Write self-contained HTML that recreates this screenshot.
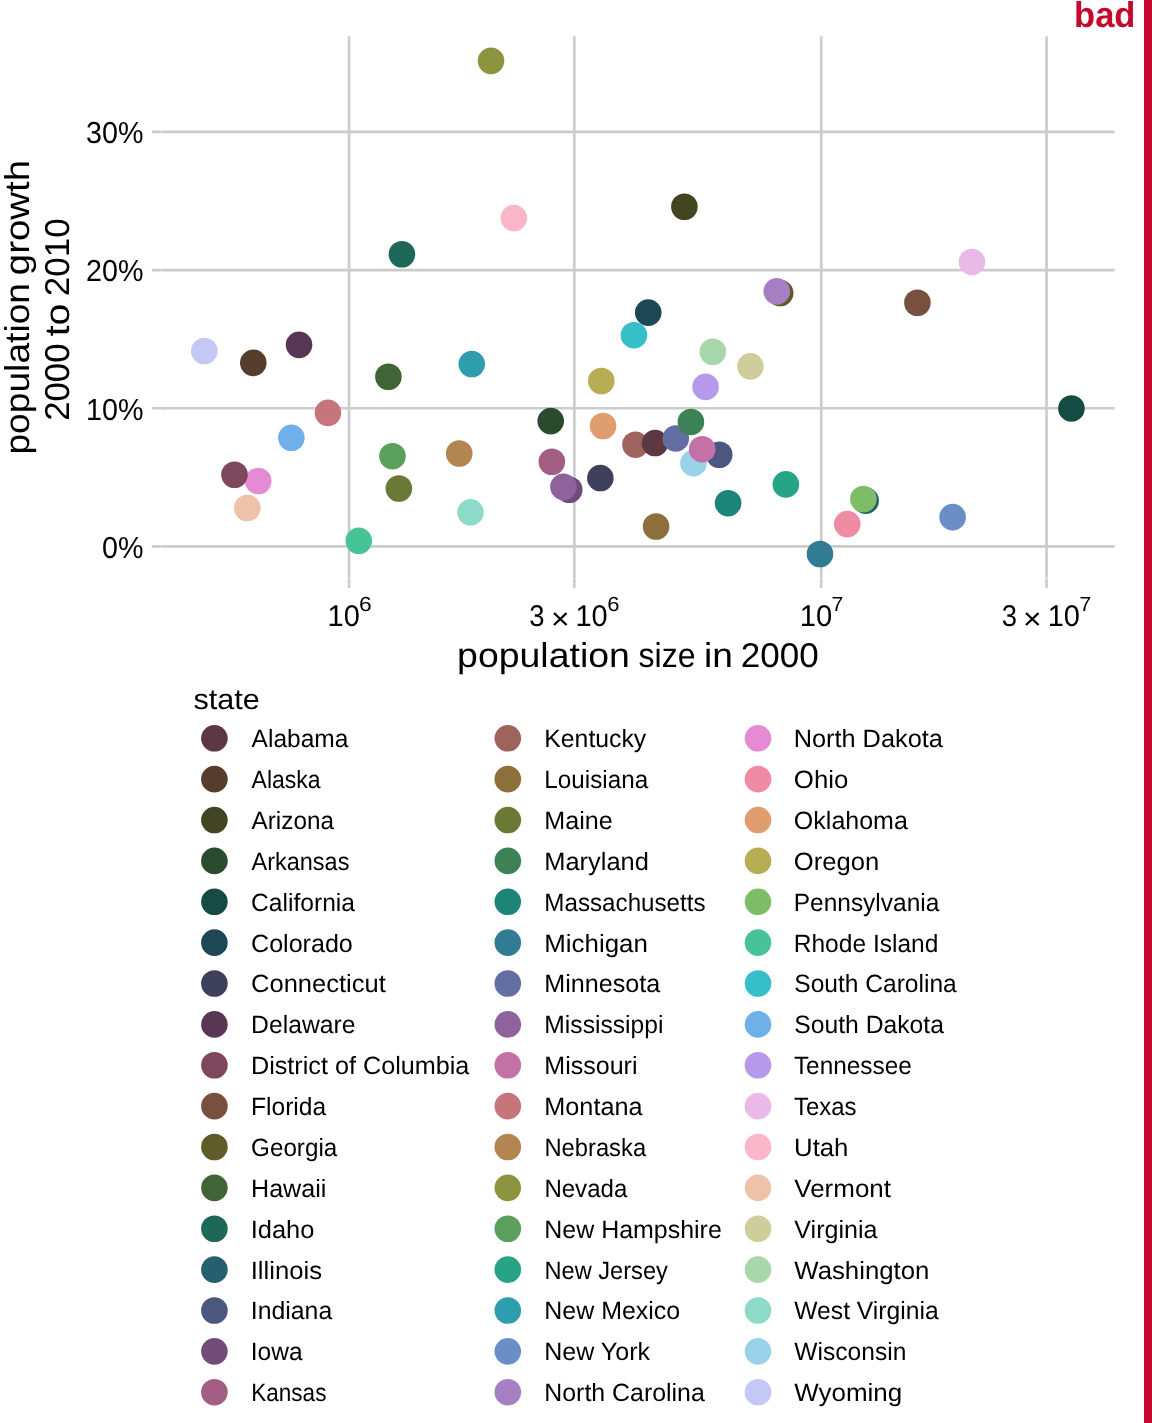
<!DOCTYPE html>
<html lang="en"><head><meta charset="utf-8"><title>population growth vs population size</title>
<style>html,body{margin:0;padding:0;background:#fff}body{width:1152px;height:1423px;overflow:hidden}svg{display:block}text{font-family:"Liberation Sans", sans-serif;text-rendering:geometricPrecision}</style></head><body>
<svg width="1152" height="1423" viewBox="0 0 1152 1423">
<rect x="0" y="0" width="1152" height="1423" fill="#fff"/>
<g stroke="#CCCCCC" stroke-width="2.67" fill="none">
<path d="M151.8 546.40H160.45M160.75 546.40H1114.7"/>
<path d="M151.8 408.25H160.45M160.75 408.25H1114.7"/>
<path d="M151.8 270.10H160.45M160.75 270.10H1114.7"/>
<path d="M151.8 131.95H160.45M160.75 131.95H1114.7"/>
<path d="M349.05 36.3V578.15M349.05 578.65V587.95"/>
<path d="M574.35 36.3V578.15M574.35 578.65V587.95"/>
<path d="M821.25 36.3V578.15M821.25 578.65V587.95"/>
<path d="M1046.55 36.3V578.15M1046.55 578.65V587.95"/>
</g>
<g>
<circle cx="819.98" cy="554.02" r="13.30" fill="#327B95"/>
<circle cx="358.73" cy="540.80" r="13.30" fill="#47C497"/>
<circle cx="656.08" cy="526.49" r="13.30" fill="#8C6F3A"/>
<circle cx="847.28" cy="524.09" r="13.30" fill="#EF8BA3"/>
<circle cx="952.62" cy="517.16" r="13.30" fill="#6A8EC6"/>
<circle cx="470.54" cy="512.29" r="13.30" fill="#8DDAC9"/>
<circle cx="247.29" cy="508.02" r="13.30" fill="#EEC2A8"/>
<circle cx="728.09" cy="503.20" r="13.30" fill="#1D8478"/>
<circle cx="865.68" cy="500.64" r="13.30" fill="#26606F"/>
<circle cx="863.39" cy="499.01" r="13.30" fill="#7FBC68"/>
<circle cx="569.25" cy="489.73" r="13.30" fill="#714C78"/>
<circle cx="398.86" cy="488.49" r="13.30" fill="#6B7937"/>
<circle cx="563.44" cy="486.84" r="13.30" fill="#8F619D"/>
<circle cx="785.84" cy="484.41" r="13.30" fill="#27A386"/>
<circle cx="258.23" cy="481.02" r="13.30" fill="#E58BD4"/>
<circle cx="600.35" cy="478.03" r="13.30" fill="#3F405C"/>
<circle cx="234.51" cy="474.76" r="13.30" fill="#7D485D"/>
<circle cx="693.50" cy="463.13" r="13.30" fill="#9AD3E9"/>
<circle cx="551.86" cy="461.77" r="13.30" fill="#A25E82"/>
<circle cx="392.47" cy="456.20" r="13.30" fill="#5A9F5D"/>
<circle cx="719.23" cy="454.77" r="13.30" fill="#4C577F"/>
<circle cx="459.22" cy="453.50" r="13.30" fill="#B38550"/>
<circle cx="702.17" cy="449.19" r="13.30" fill="#C471A8"/>
<circle cx="635.47" cy="444.68" r="13.30" fill="#9F635E"/>
<circle cx="655.07" cy="443.07" r="13.30" fill="#5D3742"/>
<circle cx="675.77" cy="438.44" r="13.30" fill="#636FA3"/>
<circle cx="291.37" cy="437.80" r="13.30" fill="#6FB0E9"/>
<circle cx="603.05" cy="426.01" r="13.30" fill="#DF9D70"/>
<circle cx="690.92" cy="421.97" r="13.30" fill="#3D8254"/>
<circle cx="550.71" cy="421.08" r="13.30" fill="#2A4B2E"/>
<circle cx="327.94" cy="412.84" r="13.30" fill="#C6767B"/>
<circle cx="1071.44" cy="408.45" r="13.30" fill="#164B43"/>
<circle cx="705.59" cy="386.91" r="13.30" fill="#B799EC"/>
<circle cx="601.30" cy="380.98" r="13.30" fill="#B7AD52"/>
<circle cx="388.40" cy="376.77" r="13.30" fill="#406435"/>
<circle cx="750.39" cy="366.36" r="13.30" fill="#CFCD99"/>
<circle cx="471.75" cy="364.03" r="13.30" fill="#2E9DAE"/>
<circle cx="253.30" cy="362.84" r="13.30" fill="#563D2B"/>
<circle cx="712.84" cy="351.76" r="13.30" fill="#A7D7AB"/>
<circle cx="204.34" cy="350.99" r="13.30" fill="#C5C7F5"/>
<circle cx="299.04" cy="344.83" r="13.30" fill="#583755"/>
<circle cx="633.96" cy="335.20" r="13.30" fill="#36BFC8"/>
<circle cx="648.23" cy="312.60" r="13.30" fill="#1E4755"/>
<circle cx="917.41" cy="302.73" r="13.30" fill="#78503E"/>
<circle cx="780.21" cy="293.07" r="13.30" fill="#615A29"/>
<circle cx="776.75" cy="291.33" r="13.30" fill="#A67EC3"/>
<circle cx="971.95" cy="261.93" r="13.30" fill="#EAB9E8"/>
<circle cx="401.90" cy="254.26" r="13.30" fill="#1E6859"/>
<circle cx="513.81" cy="218.08" r="13.30" fill="#F9B7C9"/>
<circle cx="684.39" cy="206.75" r="13.30" fill="#434421"/>
<circle cx="491.02" cy="60.87" r="13.30" fill="#8D9440"/>
</g>
<rect x="1144" y="0" width="8" height="1423" fill="#C5082E"/>
<text transform="translate(1074.06 26.90) scale(0.9645 1.0000)" font-size="35.80" font-weight="bold" fill="#C5082E">bad</text>
<text transform="translate(102.02 558.00) scale(0.9433 1.0000)" font-size="30.40">0%</text>
<text transform="translate(86.10 420.00) scale(0.9433 1.0000)" font-size="30.40">10%</text>
<text transform="translate(86.10 281.00) scale(0.9433 1.0000)" font-size="30.40">20%</text>
<text transform="translate(86.10 143.00) scale(0.9433 1.0000)" font-size="30.40">30%</text>
<g>
<text transform="translate(327.53 626.00) scale(0.9648 1.0000)" font-size="30.00">10</text>
<text transform="translate(358.96 611.00) scale(1.1135 1.0000)" font-size="20.50">6</text>
</g>
<g>
<text transform="translate(529.20 626.00) scale(0.9149 1.0000)" font-size="30.00">3</text>
<text transform="translate(550.98 628.98) scale(1.0562 1.0000)" font-size="30.00">×</text>
<text transform="translate(575.43 626.00) scale(0.9648 1.0000)" font-size="30.00">10</text>
<text transform="translate(607.20 611.00) scale(1.0710 1.0000)" font-size="20.50">6</text>
</g>
<g>
<text transform="translate(799.71 626.00) scale(0.9749 1.0000)" font-size="30.00">10</text>
<text transform="translate(831.43 611.00) scale(1.0399 1.0000)" font-size="20.50">7</text>
</g>
<g>
<text transform="translate(1001.80 626.00) scale(0.9149 1.0000)" font-size="30.00">3</text>
<text transform="translate(1023.08 628.98) scale(1.0562 1.0000)" font-size="30.00">×</text>
<text transform="translate(1047.72 626.00) scale(0.9682 1.0000)" font-size="30.00">10</text>
<text transform="translate(1079.45 611.00) scale(1.0292 1.0000)" font-size="20.50">7</text>
</g>
<g>
<text transform="translate(457.07 667.30) scale(1.0851 1.0000)" font-size="34.50">population</text>
<text transform="translate(638.54 667.30) scale(0.9275 1.0000)" font-size="34.50">size</text>
<text transform="translate(703.99 667.30) scale(1.0740 1.0000)" font-size="34.50">in</text>
<text transform="translate(740.75 667.30) scale(1.0142 1.0000)" font-size="34.50">2000</text>
</g>
<g>
<text transform="translate(29.30 454.62) rotate(-90) scale(1.0780 1.0000)" font-size="34.50">population</text>
<text transform="translate(29.30 275.13) rotate(-90) scale(1.1114 1.0000)" font-size="34.50">growth</text>
<text transform="translate(69.10 420.84) rotate(-90) scale(1.0074 1.0000)" font-size="34.50">2000</text>
<text transform="translate(69.10 336.29) rotate(-90) scale(1.1371 1.0000)" font-size="34.50">to</text>
<text transform="translate(69.10 296.15) rotate(-90) scale(1.0142 1.0000)" font-size="34.50">2010</text>
</g>
<text transform="translate(193.48 708.70) scale(1.0728 1.0000)" font-size="28.50">state</text>
<g>
<circle cx="214.40" cy="738.30" r="13.30" fill="#5D3742"/>
<text transform="translate(251.58 747.20) scale(0.9807 1.0000)" font-size="25.00">Alabama</text>
<circle cx="214.40" cy="779.17" r="13.30" fill="#563D2B"/>
<text transform="translate(251.58 788.07) scale(0.9202 1.0000)" font-size="25.00">Alaska</text>
<circle cx="214.40" cy="820.04" r="13.30" fill="#434421"/>
<text transform="translate(251.58 828.94) scale(0.9713 1.0000)" font-size="25.00">Arizona</text>
<circle cx="214.40" cy="860.91" r="13.30" fill="#2A4B2E"/>
<text transform="translate(251.58 869.81) scale(0.9385 1.0000)" font-size="25.00">Arkansas</text>
<circle cx="214.40" cy="901.78" r="13.30" fill="#164B43"/>
<text transform="translate(251.07 910.68) scale(0.9840 1.0000)" font-size="25.00">California</text>
<circle cx="214.40" cy="942.65" r="13.30" fill="#1E4755"/>
<text transform="translate(251.05 951.55) scale(1.0028 1.0000)" font-size="25.00">Colorado</text>
<circle cx="214.40" cy="983.52" r="13.30" fill="#3F405C"/>
<text transform="translate(251.02 992.42) scale(1.0205 1.0000)" font-size="25.00">Connecticut</text>
<circle cx="214.40" cy="1024.39" r="13.30" fill="#583755"/>
<text transform="translate(251.02 1033.29) scale(0.9893 1.0000)" font-size="25.00">Delaware</text>
<circle cx="214.40" cy="1065.26" r="13.30" fill="#7D485D"/>
<text transform="translate(250.98 1074.16) scale(1.0077 1.0000)" font-size="25.00">District of Columbia</text>
<circle cx="214.40" cy="1106.13" r="13.30" fill="#78503E"/>
<text transform="translate(251.03 1115.03) scale(0.9829 1.0000)" font-size="25.00">Florida</text>
<circle cx="214.40" cy="1147.00" r="13.30" fill="#615A29"/>
<text transform="translate(251.09 1155.90) scale(0.9689 1.0000)" font-size="25.00">Georgia</text>
<circle cx="214.40" cy="1187.87" r="13.30" fill="#406435"/>
<text transform="translate(250.99 1196.77) scale(1.0046 1.0000)" font-size="25.00">Hawaii</text>
<circle cx="214.40" cy="1228.74" r="13.30" fill="#1E6859"/>
<text transform="translate(250.71 1237.64) scale(1.0177 1.0000)" font-size="25.00">Idaho</text>
<circle cx="214.40" cy="1269.61" r="13.30" fill="#26606F"/>
<text transform="translate(250.69 1278.51) scale(1.0260 1.0000)" font-size="25.00">Illinois</text>
<circle cx="214.40" cy="1310.48" r="13.30" fill="#4C577F"/>
<text transform="translate(250.77 1319.38) scale(0.9931 1.0000)" font-size="25.00">Indiana</text>
<circle cx="214.40" cy="1351.35" r="13.30" fill="#714C78"/>
<text transform="translate(250.79 1360.25) scale(0.9802 1.0000)" font-size="25.00">Iowa</text>
<circle cx="214.40" cy="1392.22" r="13.30" fill="#A25E82"/>
<text transform="translate(251.20 1401.12) scale(0.9019 1.0000)" font-size="25.00">Kansas</text>
<circle cx="507.80" cy="738.30" r="13.30" fill="#9F635E"/>
<text transform="translate(544.32 747.20) scale(0.9906 1.0000)" font-size="25.00">Kentucky</text>
<circle cx="507.80" cy="779.17" r="13.30" fill="#8C6F3A"/>
<text transform="translate(544.36 788.07) scale(0.9695 1.0000)" font-size="25.00">Louisiana</text>
<circle cx="507.80" cy="820.04" r="13.30" fill="#6B7937"/>
<text transform="translate(544.29 828.94) scale(1.0062 1.0000)" font-size="25.00">Maine</text>
<circle cx="507.80" cy="860.91" r="13.30" fill="#3D8254"/>
<text transform="translate(544.26 869.81) scale(1.0179 1.0000)" font-size="25.00">Maryland</text>
<circle cx="507.80" cy="901.78" r="13.30" fill="#1D8478"/>
<text transform="translate(544.37 910.68) scale(0.9666 1.0000)" font-size="25.00">Massachusetts</text>
<circle cx="507.80" cy="942.65" r="13.30" fill="#327B95"/>
<text transform="translate(544.23 951.55) scale(1.0355 1.0000)" font-size="25.00">Michigan</text>
<circle cx="507.80" cy="983.52" r="13.30" fill="#636FA3"/>
<text transform="translate(544.29 992.42) scale(1.0055 1.0000)" font-size="25.00">Minnesota</text>
<circle cx="507.80" cy="1024.39" r="13.30" fill="#8F619D"/>
<text transform="translate(544.33 1033.29) scale(0.9853 1.0000)" font-size="25.00">Mississippi</text>
<circle cx="507.80" cy="1065.26" r="13.30" fill="#C471A8"/>
<text transform="translate(544.30 1074.16) scale(1.0014 1.0000)" font-size="25.00">Missouri</text>
<circle cx="507.80" cy="1106.13" r="13.30" fill="#C6767B"/>
<text transform="translate(544.28 1115.03) scale(1.0100 1.0000)" font-size="25.00">Montana</text>
<circle cx="507.80" cy="1147.00" r="13.30" fill="#B38550"/>
<text transform="translate(544.40 1155.90) scale(0.9505 1.0000)" font-size="25.00">Nebraska</text>
<circle cx="507.80" cy="1187.87" r="13.30" fill="#8D9440"/>
<text transform="translate(544.38 1196.77) scale(0.9617 1.0000)" font-size="25.00">Nevada</text>
<circle cx="507.80" cy="1228.74" r="13.30" fill="#5A9F5D"/>
<text transform="translate(544.30 1237.64) scale(0.9981 1.0000)" font-size="25.00">New Hampshire</text>
<circle cx="507.80" cy="1269.61" r="13.30" fill="#27A386"/>
<text transform="translate(544.41 1278.51) scale(0.9455 1.0000)" font-size="25.00">New Jersey</text>
<circle cx="507.80" cy="1310.48" r="13.30" fill="#2E9DAE"/>
<text transform="translate(544.30 1319.38) scale(0.9983 1.0000)" font-size="25.00">New Mexico</text>
<circle cx="507.80" cy="1351.35" r="13.30" fill="#6A8EC6"/>
<text transform="translate(544.30 1360.25) scale(1.0007 1.0000)" font-size="25.00">New York</text>
<circle cx="507.80" cy="1392.22" r="13.30" fill="#A67EC3"/>
<text transform="translate(544.31 1401.12) scale(0.9954 1.0000)" font-size="25.00">North Carolina</text>
<circle cx="758.00" cy="738.30" r="13.30" fill="#E58BD4"/>
<text transform="translate(793.67 747.20) scale(1.0127 1.0000)" font-size="25.00">North Dakota</text>
<circle cx="758.00" cy="779.17" r="13.30" fill="#EF8BA3"/>
<text transform="translate(793.84 788.07) scale(1.0311 1.0000)" font-size="25.00">Ohio</text>
<circle cx="758.00" cy="820.04" r="13.30" fill="#DF9D70"/>
<text transform="translate(793.87 828.94) scale(1.0004 1.0000)" font-size="25.00">Oklahoma</text>
<circle cx="758.00" cy="860.91" r="13.30" fill="#B7AD52"/>
<text transform="translate(793.85 869.81) scale(1.0233 1.0000)" font-size="25.00">Oregon</text>
<circle cx="758.00" cy="901.78" r="13.30" fill="#7FBC68"/>
<text transform="translate(793.74 910.68) scale(0.9787 1.0000)" font-size="25.00">Pennsylvania</text>
<circle cx="758.00" cy="942.65" r="13.30" fill="#47C497"/>
<text transform="translate(793.74 951.55) scale(0.9817 1.0000)" font-size="25.00">Rhode Island</text>
<circle cx="758.00" cy="983.52" r="13.30" fill="#36BFC8"/>
<text transform="translate(794.30 992.42) scale(0.9820 1.0000)" font-size="25.00">South Carolina</text>
<circle cx="758.00" cy="1024.39" r="13.30" fill="#6FB0E9"/>
<text transform="translate(794.29 1033.29) scale(0.9875 1.0000)" font-size="25.00">South Dakota</text>
<circle cx="758.00" cy="1065.26" r="13.30" fill="#B799EC"/>
<text transform="translate(793.91 1074.16) scale(0.9744 1.0000)" font-size="25.00">Tennessee</text>
<circle cx="758.00" cy="1106.13" r="13.30" fill="#EAB9E8"/>
<text transform="translate(793.92 1115.03) scale(0.9581 1.0000)" font-size="25.00">Texas</text>
<circle cx="758.00" cy="1147.00" r="13.30" fill="#F9B7C9"/>
<text transform="translate(794.07 1155.90) scale(1.0294 1.0000)" font-size="25.00">Utah</text>
<circle cx="758.00" cy="1187.87" r="13.30" fill="#EEC2A8"/>
<text transform="translate(794.27 1196.77) scale(1.0394 1.0000)" font-size="25.00">Vermont</text>
<circle cx="758.00" cy="1228.74" r="13.30" fill="#CFCD99"/>
<text transform="translate(794.27 1237.64) scale(1.0042 1.0000)" font-size="25.00">Virginia</text>
<circle cx="758.00" cy="1269.61" r="13.30" fill="#A7D7AB"/>
<text transform="translate(794.27 1278.51) scale(1.0311 1.0000)" font-size="25.00">Washington</text>
<circle cx="758.00" cy="1310.48" r="13.30" fill="#8DDAC9"/>
<text transform="translate(794.28 1319.38) scale(0.9860 1.0000)" font-size="25.00">West Virginia</text>
<circle cx="758.00" cy="1351.35" r="13.30" fill="#9AD3E9"/>
<text transform="translate(794.28 1360.25) scale(0.9837 1.0000)" font-size="25.00">Wisconsin</text>
<circle cx="758.00" cy="1392.22" r="13.30" fill="#C5C7F5"/>
<text transform="translate(794.27 1401.12) scale(1.0386 1.0000)" font-size="25.00">Wyoming</text>
</g>
</svg></body></html>
